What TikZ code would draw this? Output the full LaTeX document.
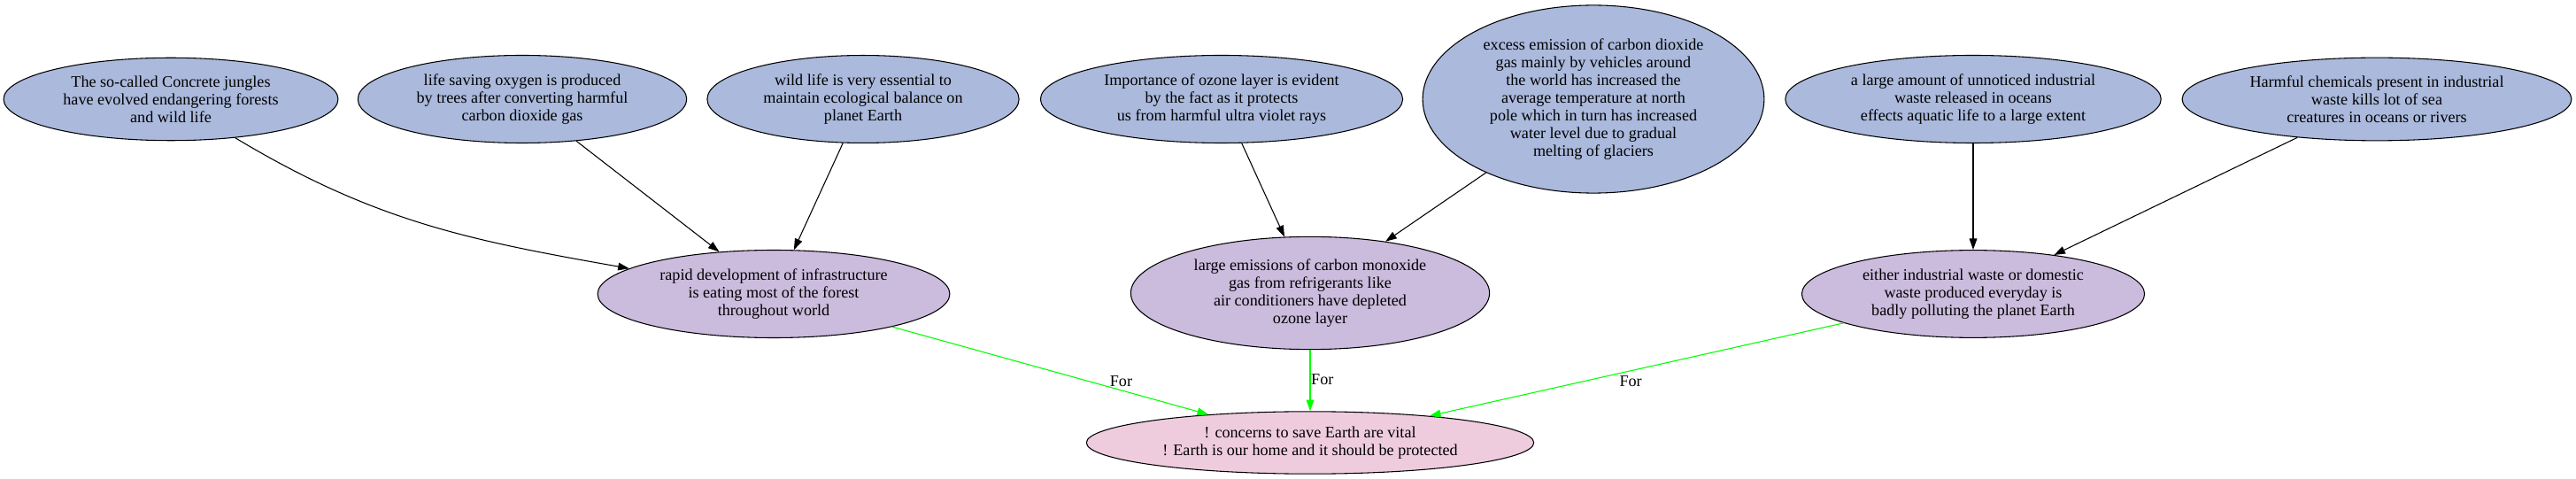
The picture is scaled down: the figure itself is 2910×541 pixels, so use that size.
\documentclass[tikz,border=0pt]{standalone}
\usepackage{fontspec}
\setmainfont{Liberation Serif}
\usetikzlibrary{shapes.geometric,arrows.meta}
\definecolor{causeblue}{HTML}{AAB9DC}
\definecolor{effectlilac}{HTML}{CBBBDD}
\definecolor{goalpink}{HTML}{EECCDE}
\definecolor{forgreen}{HTML}{00FF00}
\begin{document}
\begin{tikzpicture}[x=0.75pt, y=-0.75pt, font=\fontsize{13.6}{15}\selectfont, line join=round, >={Triangle[length=9.5pt,width=6.5pt]},
  cause/.style={ellipse, draw, line width=0.8pt, fill=causeblue, align=center, inner xsep=9pt, inner ysep=5pt},
  effect/.style={cause, fill=effectlilac},
  goal/.style={cause, fill=goalpink},
  link/.style={->, line width=0.8pt},
  forlink/.style={->, line width=0.8pt, draw=forgreen, fill=forgreen},
  forlabel/.style={text=black, inner sep=0pt}]
\useasboundingbox (0,0) rectangle (2910,541);
\node[cause] (jungle) at (193,112) {The so-called Concrete jungles\\have evolved endangering forests\\and wild life};
\node[cause] (oxygen) at (590,112) {life saving oxygen is produced\\by trees after converting harmful\\carbon dioxide gas};
\node[cause] (wildlife) at (975,112) {wild life is very essential to\\maintain ecological balance on\\planet Earth};
\node[cause] (ozone) at (1380,112) {Importance of ozone layer is evident\\by the fact as it protects\\us from harmful ultra violet rays};
\node[cause] (excess) at (1800,112) {excess emission of carbon dioxide\\gas mainly by vehicles around\\the world has increased the\\average temperature at north\\pole which in turn has increased\\water level due to gradual\\melting of glaciers};
\node[cause] (waste) at (2229,112) {a large amount of unnoticed industrial\\waste released in oceans\\effects aquatic life to a large extent};
\node[cause] (chem) at (2685,112) {Harmful chemicals present in industrial\\waste kills lot of sea\\creatures in oceans or rivers};
\node[effect] (infra) at (874,332) {rapid development of infrastructure\\is eating most of the forest\\throughout world};
\node[effect] (cmono) at (1480,331) {large emissions of carbon monoxide\\gas from refrigerants like\\air conditioners have depleted\\ozone layer};
\node[effect] (pollute) at (2229,332) {either industrial waste or domestic\\waste produced everyday is\\badly polluting the planet Earth};
\node[goal] (concern) at (1480,500) {! concerns to save Earth are vital\\! Earth is our home and it should be protected};
\draw[link] (jungle) to[out=-31,in=170] (infra);
\draw[link] (oxygen) -- (infra);
\draw[link] (wildlife) -- (infra);
\draw[link] (ozone) -- (cmono);
\draw[link] (excess) -- (cmono);
\draw[link] (waste) -- (pollute);
\draw[link] (chem) -- (pollute);
\draw[forlink] (infra) -- (concern) node[forlabel, pos=0.62, right=18pt]{For};
\draw[forlink] (cmono) -- (concern) node[forlabel, pos=0.49, right=0.5pt]{For};
\draw[forlink] (pollute) -- (concern) node[forlabel, pos=0.625, right=29pt]{For};
\end{tikzpicture}
\end{document}
